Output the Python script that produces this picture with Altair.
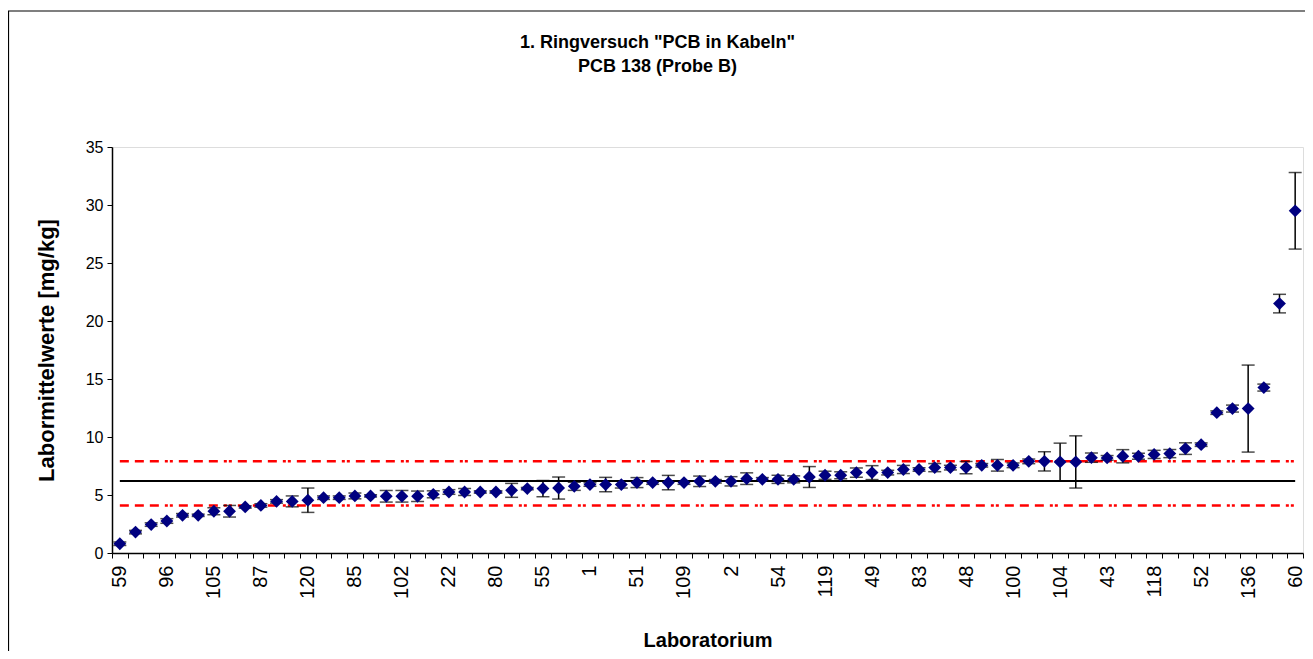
import altair as alt
import pandas as pd

# every third laboratory label (as printed on the x axis)
lab_labels = ["59", "96", "105", "87", "120", "85", "102", "22", "80", "55", "1", "51",
              "109", "2", "54", "119", "49", "83", "48", "100", "104", "43", "118", "52",
              "136", "60"]

# laboratory means [mg/kg], sorted as in the chart (76 labs)
lab_means = [0.8, 1.8, 2.45, 2.76, 3.25, 3.25, 3.6, 3.6, 3.97, 4.1,
             4.45, 4.45, 4.55, 4.77, 4.77, 4.92, 4.92, 4.89, 4.89, 4.89,
             5.06, 5.26, 5.26, 5.26, 5.26, 5.4, 5.55, 5.55, 5.6, 5.75,
             5.9, 5.9, 5.9, 6.07, 6.07, 6.07, 6.07, 6.18, 6.18, 6.18,
             6.41, 6.35, 6.35, 6.35, 6.55, 6.7, 6.7, 6.93, 6.93, 6.93,
             7.2, 7.2, 7.36, 7.36, 7.36, 7.56, 7.56, 7.56, 7.9, 7.9,
             7.85, 7.85, 8.22, 8.2, 8.34, 8.34, 8.5, 8.57, 9.0, 9.34,
             12.1, 12.45, 12.45, 14.26, 21.5, 29.5]

# half width of the error bars [mg/kg]
lab_errors = [0.15, 0.15, 0.15, 0.2, 0.15, 0.1, 0.3, 0.5, 0.1, 0.15,
              0.15, 0.47, 1.05, 0.15, 0.15, 0.25, 0.1, 0.5, 0.5, 0.45,
              0.3, 0.2, 0.3, 0.1, 0.1, 0.6, 0.1, 0.7, 0.95, 0.35,
              0.15, 0.62, 0.3, 0.43, 0.15, 0.62, 0.15, 0.45, 0.15, 0.4,
              0.5, 0.15, 0.35, 0.3, 0.9, 0.35, 0.3, 0.4, 0.6, 0.2,
              0.35, 0.15, 0.35, 0.2, 0.53, 0.15, 0.5, 0.2, 0.2, 0.83,
              1.62, 2.25, 0.4, 0.2, 0.57, 0.25, 0.35, 0.35, 0.5, 0.15,
              0.15, 0.3, 3.75, 0.3, 0.8, 3.3]

# reference values
assigned_value = 6.2
upper_limit = 7.9
lower_limit = 4.1

n = len(lab_means)
idx = list(range(n))
df = pd.DataFrame({
    "idx": idx,
    "mean": lab_means,
    "lo": [m - e for m, e in zip(lab_means, lab_errors)],
    "hi": [m + e for m, e in zip(lab_means, lab_errors)],
})

ref = pd.DataFrame({
    "idx": [0, n - 1] * 3,
    "val": [assigned_value] * 2 + [upper_limit] * 2 + [lower_limit] * 2,
    "kind": ["mean"] * 2 + ["upper"] * 2 + ["lower"] * 2,
})

FONT = "Liberation Sans"
W, H = 1191, 406

label_arr = "[" + ",".join("'" + s + "'" for s in lab_labels) + "]"
label_expr = f"datum.value % 3 == 0 ? {label_arr}[datum.value / 3] : ''"

x_enc = alt.X(
    "idx:O",
    scale=alt.Scale(type="band", paddingInner=0, paddingOuter=0, domain=idx),
    axis=alt.Axis(
        title="Laboratorium", values=idx, labelExpr=label_expr, labelAngle=-90,
        tickBand="extent", tickSize=5, tickColor="black", tickWidth=1,
        domainColor="black", domainWidth=1.5, labelFont=FONT, labelFontSize=20,
        labelColor="black", labelPadding=7, titleFont=FONT, titleFontSize=20,
        titleFontWeight="bold", titleColor="black", titlePadding=32,
        labelOverlap=False, grid=False,
    ),
)
y_scale = alt.Scale(domain=[0, 35], nice=False, zero=True)
y_axis = alt.Axis(
    title="Labormittelwerte [mg/kg]", values=list(range(0, 36, 5)), tickSize=5,
    tickColor="black", domainColor="black", domainWidth=1.5, labelFont=FONT,
    labelFontSize=16, labelColor="black", labelPadding=4, titleFont=FONT,
    titleFontSize=22, titleFontWeight="bold", titleColor="black", titlePadding=27,
    grid=False,
)

base = alt.Chart(df)

bars = base.mark_rule(color="black", strokeWidth=1.5).encode(
    x=x_enc, y=alt.Y("lo:Q", scale=y_scale, axis=y_axis), y2="hi:Q")
caps_hi = base.mark_tick(color="black", thickness=1.5, size=13, orient="horizontal").encode(
    x="idx:O", y="hi:Q")
caps_lo = base.mark_tick(color="black", thickness=1.5, size=13, orient="horizontal").encode(
    x="idx:O", y="lo:Q")

DASH = [9, 6, 9, 6, 9, 6, 3, 2, 3, 6]
ref_mean = alt.Chart(ref).transform_filter("datum.kind == 'mean'").mark_line(
    color="black", strokeWidth=2).encode(x="idx:O", y="val:Q")
ref_up = alt.Chart(ref).transform_filter("datum.kind == 'upper'").mark_line(
    color="#FF0000", strokeWidth=2.5, strokeDash=DASH).encode(x="idx:O", y="val:Q")
ref_lo = alt.Chart(ref).transform_filter("datum.kind == 'lower'").mark_line(
    color="#FF0000", strokeWidth=2.5, strokeDash=DASH).encode(x="idx:O", y="val:Q")

points = base.mark_point(shape="diamond", filled=True, size=165, color="#000080",
                         opacity=1).encode(x="idx:O", y="mean:Q")

# outer frame around the whole figure
frame = alt.Chart(pd.DataFrame({"f": [0]})).mark_rect(
    fill=None, fillOpacity=0, stroke="black", strokeWidth=1.2).encode(
    x=alt.value(-103.5), x2=alt.value(1220), y=alt.value(-136), y2=alt.value(520))

chart = alt.layer(frame, ref_mean, ref_up, ref_lo, bars, caps_hi, caps_lo, points).properties(
    width=W, height=H,
    title=alt.TitleParams(
        text=['1. Ringversuch "PCB in Kabeln"', "PCB 138 (Probe B)"],
        font=FONT, fontSize=18, fontWeight="bold", color="black",
        anchor="middle", dx=-50, offset=-66, lineHeight=24,
    ),
    autosize=alt.AutoSizeParams(type="none"),
    padding={"left": 104, "top": 139, "right": 2, "bottom": 98},
).configure_view(stroke="#808080", strokeWidth=1.5).configure(background="white")

chart.save("out.html", embed_options={"renderer": "svg", "actions": False})
